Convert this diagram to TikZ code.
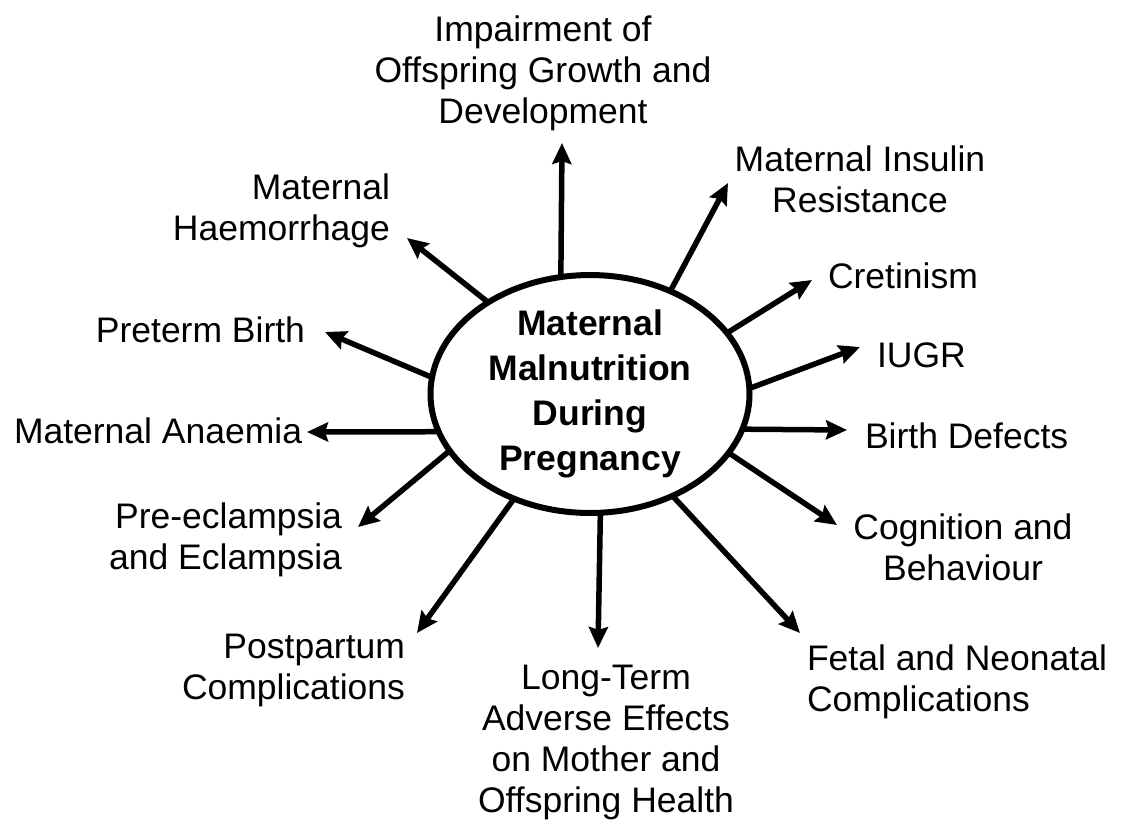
\documentclass[tikz,border=0pt]{standalone}
\usepackage{fontspec}
\setmainfont{Liberation Sans}
\usetikzlibrary{arrows.meta,shapes.geometric}

\begin{document}
\begin{tikzpicture}[x=1pt, y=-1pt,
  every node/.style={font=\fontsize{35.5}{41}\selectfont, inner sep=0pt, outer sep=0pt},
  core/.style={ellipse, draw, line width=6pt, minimum width=319pt, minimum height=226pt,
    align=center, font=\fontsize{35.5}{45}\selectfont\bfseries},
  effect/.style={align=center},
  arr/.style={line width=5.5pt, -{Stealth[length=21pt,width=19pt,inset=3pt]}}]
  \useasboundingbox (0,0) rectangle (1125,823);

  % Centre
  \node[core] (core) at (590,394) {Maternal\\Malnutrition\\During\\Pregnancy};

  % Effets (sens horaire depuis le haut)
  \node[effect, anchor=north] (growth) at (543,16) {Impairment of\\Offspring Growth and\\Development};
  \node[effect, anchor=north] (insulin) at (860,145.5) {Maternal Insulin\\Resistance};
  \node[anchor=base west] (cretin) at (828,288) {Cretinism};
  \node[anchor=base west] (iugr) at (877,367) {IUGR};
  \node[anchor=base west] (birth) at (865,448) {Birth Defects};
  \node[effect, anchor=north] (cogn) at (963,513.5) {Cognition and\\Behaviour};
  \node[align=left, anchor=north west] (fetal) at (807,644.5) {Fetal and Neonatal\\Complications};
  \node[effect, anchor=north] (longterm) at (606,665.5) {Long-Term\\Adverse Effects\\on Mother and\\Offspring Health};
  \node[align=right, anchor=north east] (postpartum) at (405,634.5) {Postpartum\\Complications};
  \node[align=right, anchor=north east] (preecl) at (342,502.5) {Pre-eclampsia\\and Eclampsia};
  \node[anchor=base west] (anaemia) at (14,443) {Maternal Anaemia};
  \node[anchor=base east] (preterm) at (305,342) {Preterm Birth};
  \node[align=right, anchor=north east] (haem) at (390,173.5) {Maternal\\Haemorrhage};

  % Pointes des fleches
  \coordinate (tGrowth) at (562,143);
  \coordinate (tInsulin) at (728,183);
  \coordinate (tCretin) at (812,280);
  \coordinate (tIugr) at (860,347);
  \coordinate (tBirth) at (847,430);
  \coordinate (tCogn) at (837,525);
  \coordinate (tFetal) at (800,633);
  \coordinate (tLong) at (598,648);
  \coordinate (tPost) at (417,633);
  \coordinate (tPre) at (358,527);
  \coordinate (tAnae) at (307,432);
  \coordinate (tPret) at (325,332);
  \coordinate (tHaem) at (407,238);

  % Fleches
  \draw[arr] (core.104.07) -- (tGrowth);
  \draw[arr] (core.52.4) -- (tInsulin);
  \draw[arr] (core.24.3) -- (tCretin);
  \draw[arr] (core.2.4) -- (tIugr);
  \draw[arr] (core.-13.35) -- (tBirth);
  \draw[arr] (core.-23.9) -- (tCogn);
  \draw[arr] (core.-51.7) -- (tFetal);
  \draw[arr] (core.-85.96) -- (tLong);
  \draw[arr] (core.-126.9) -- (tPost);
  \draw[arr] (core.202.6) -- (tPre);
  \draw[arr] (core.194.1) -- (tAnae);
  \draw[arr] (core.174.4) -- (tPret);
  \draw[arr] (core.138.5) -- (tHaem);
\end{tikzpicture}
\end{document}
